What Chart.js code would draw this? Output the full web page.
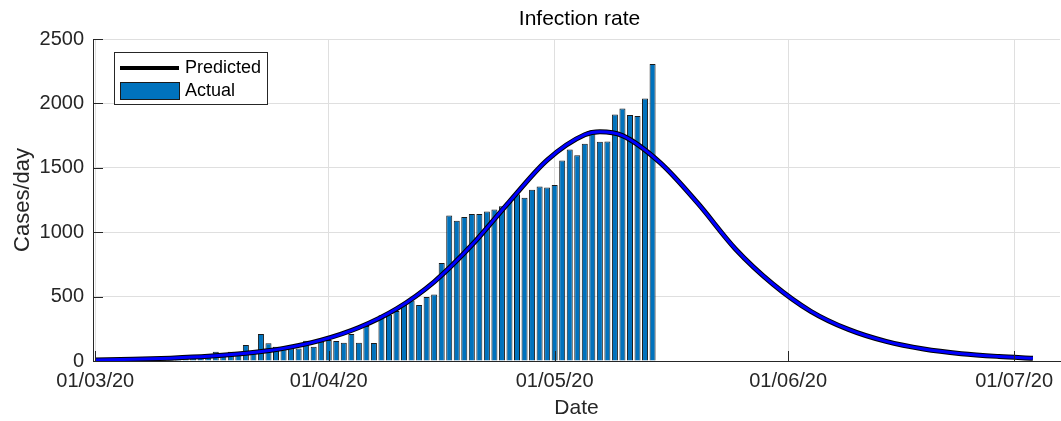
<!DOCTYPE html>
<html>
<head>
<meta charset="utf-8">
<script src="https://cdn.jsdelivr.net/npm/chart.js@4.4.0/dist/chart.umd.min.js"></script>
<style>
html, body { margin: 0; padding: 0; background: #fff; }
#wrap { width: 1061px; height: 421px; }
</style>
</head>
<body>
<div id="wrap"><canvas id="chart"></canvas></div>
<script>
// x values are days counted from 01/03/20
var actualValues = [
    2, 3, 4, 5, 6, 8, 9, 11, 12, 14,
    16, 18, 20, 24, 28, 39, 72, 39, 72, 47,
    124, 80, 210, 137, 111, 91, 98, 98, 158, 111,
    150, 163, 155, 142, 210, 142, 272, 140, 356, 360,
    388, 440, 470, 434, 496, 517, 761, 1129, 1088, 1118,
    1142, 1142, 1160, 1176, 1201, 1235, 1294, 1268, 1330, 1355,
    1348, 1366, 1556, 1643, 1597, 1687, 1792, 1702, 1705, 1913,
    1961, 1910, 1902, 2038, 2305
];
var predictedDays = [0, 5, 10, 15, 20, 25, 30, 35, 40, 45, 50, 55, 60, 65, 67, 70, 75, 80, 85, 90, 95, 100, 105, 110, 115, 120, 124.5];
var predictedValues = [8, 13, 22, 36, 60, 98, 162, 260, 405, 615, 900, 1238, 1560, 1757, 1780, 1750, 1540, 1225, 870, 596, 386, 245, 152, 93, 57, 35, 21];
var tickDays = [0, 31, 61, 92, 122];
var tickLabels = ['01/03/20', '01/04/20', '01/05/20', '01/06/20', '01/07/20'];

var FONT = '"Liberation Sans", Arial, Helvetica, sans-serif';
var AXIS = '#262626';

var actualPoints = actualValues.map(function (v, i) { return {x: i, y: v}; });
var predictedPoints = predictedDays.map(function (d, i) { return {x: d, y: predictedValues[i]}; });

var titlePlugin = {
    id: 'plotTitle',
    afterDraw: function (chart) {
        var ctx = chart.ctx, a = chart.chartArea;
        ctx.save();
        ctx.font = '21px ' + FONT;
        ctx.fillStyle = '#000';
        ctx.textAlign = 'center';
        ctx.textBaseline = 'middle';
        ctx.fillText('Infection rate', (a.left + a.right) / 2 + 3, 19);
        ctx.restore();
    }
};

var innerTicks = {
    id: 'innerTicks',
    afterDatasetsDraw: function (chart) {
        var ctx = chart.ctx, a = chart.chartArea;
        var xs = chart.scales.x, ys = chart.scales.y;
        ctx.save();
        ctx.strokeStyle = AXIS;
        ctx.lineWidth = 1;
        ctx.beginPath();
        ys.ticks.forEach(function (t) {
            var y = Math.round(ys.getPixelForValue(t.value)) + 0.5;
            ctx.moveTo(a.left, y);
            ctx.lineTo(a.left + 10, y);
        });
        xs.ticks.forEach(function (t) {
            var x = Math.round(xs.getPixelForValue(t.value)) + 0.5;
            ctx.moveTo(x, a.bottom);
            ctx.lineTo(x, a.bottom - 10);
        });
        ctx.stroke();
        ctx.restore();
    }
};

var boxLegend = {
    id: 'boxLegend',
    afterDraw: function (chart) {
        var ctx = chart.ctx, a = chart.chartArea;
        var pred = chart.data.datasets[0], act = chart.data.datasets[2];
        var x0 = a.left + 21, y0 = a.top + 13, w = 153, h = 52;
        ctx.save();
        ctx.fillStyle = '#fff';
        ctx.fillRect(x0, y0, w, h);
        ctx.strokeStyle = AXIS;
        ctx.lineWidth = 1;
        ctx.strokeRect(x0 + 0.5, y0 + 0.5, w, h);
        // predicted sample
        ctx.strokeStyle = pred.borderColor;
        ctx.lineWidth = 4;
        ctx.beginPath();
        ctx.moveTo(x0 + 6, y0 + 16);
        ctx.lineTo(x0 + 65, y0 + 16);
        ctx.stroke();
        // actual sample
        ctx.fillStyle = act.backgroundColor;
        ctx.fillRect(x0 + 6, y0 + 30, 59, 17);
        ctx.lineWidth = 1;
        ctx.strokeStyle = act.borderColor;
        ctx.strokeRect(x0 + 6.5, y0 + 30.5, 59, 17);
        ctx.fillStyle = '#000';
        ctx.font = '18px ' + FONT;
        ctx.textBaseline = 'middle';
        ctx.textAlign = 'left';
        ctx.fillText(pred.label, x0 + 71, y0 + 16);
        ctx.fillText(act.label, x0 + 71, y0 + 39);
        ctx.restore();
    }
};

var config = {
    type: 'bar',
    data: {
        datasets: [{
            type: 'line',
            label: 'Predicted',
            data: predictedPoints,
            borderColor: '#000000',
            borderWidth: 5,
            pointRadius: 0,
            cubicInterpolationMode: 'monotone',
            fill: false,
            order: 2
        }, {
            type: 'line',
            label: 'Fit',
            data: predictedPoints,
            borderColor: '#0000ff',
            borderWidth: 3,
            pointRadius: 0,
            cubicInterpolationMode: 'monotone',
            fill: false,
            order: 1
        }, {
            type: 'bar',
            label: 'Actual',
            data: actualPoints,
            backgroundColor: '#0072BD',
            borderColor: '#1a1a1a',
            borderWidth: 1,
            barPercentage: 0.8,
            categoryPercentage: 1.0,
            order: 3
        }]
    },
    options: {
        responsive: true,
        maintainAspectRatio: false,
        animation: false,
        layout: {padding: {top: 39, left: 0, right: 0, bottom: 0}},
        plugins: {
            legend: {display: false},
            tooltip: {enabled: false},
            title: {display: false}
        },
        scales: {
            x: {
                type: 'linear',
                min: -0.3,
                max: 128.1,
                offset: false,
                afterBuildTicks: function (scale) {
                    scale.ticks = tickDays.map(function (d) { return {value: d}; });
                },
                afterFit: function (scale) { scale.height = 60; },
                ticks: {
                    autoSkip: false,
                    maxRotation: 0,
                    padding: 8,
                    color: AXIS,
                    font: {family: FONT, size: 20},
                    callback: function (v) { return tickLabels[tickDays.indexOf(v)]; }
                },
                grid: {color: '#dfdfdf', drawTicks: false, offset: false},
                border: {color: AXIS, width: 1},
                title: {
                    display: true,
                    text: 'Date',
                    color: AXIS,
                    font: {family: FONT, size: 21},
                    padding: {top: 0, bottom: 0}
                }
            },
            y: {
                min: 0,
                max: 2500,
                afterFit: function (scale) { scale.width = 93; },
                ticks: {
                    stepSize: 500,
                    padding: 9,
                    color: AXIS,
                    font: {family: FONT, size: 20},
                    callback: function (v) { return String(v); }
                },
                grid: {color: '#dfdfdf', drawTicks: false},
                border: {color: AXIS, width: 1},
                title: {
                    display: true,
                    text: 'Cases/day',
                    color: AXIS,
                    font: {family: FONT, size: 22},
                    padding: {top: 10, bottom: 0}
                }
            }
        }
    },
    plugins: [innerTicks, boxLegend, titlePlugin]
};

var ctx = document.getElementById('chart').getContext('2d');
new Chart(ctx, config);
</script>
</body>
</html>
